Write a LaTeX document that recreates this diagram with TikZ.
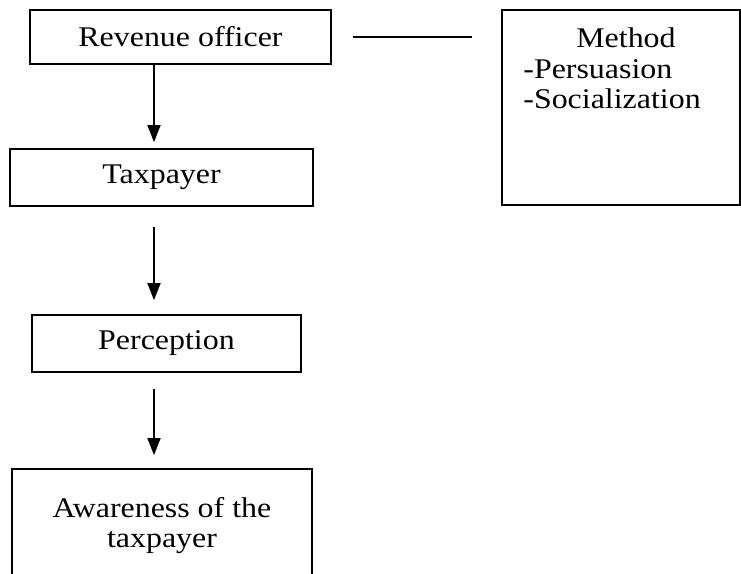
\documentclass[tikz,border=0pt]{standalone}
\usepackage{fontspec}
\setmainfont{Liberation Serif}[FakeStretch=1.12]
\usetikzlibrary{arrows.meta,positioning,calc}
\tikzset{
  box/.style  = {draw, line width=0.9pt, inner sep=0pt, align=center},
  item/.style = {inner sep=0pt},
  sig/.style  = {-{Triangle[length=8.5pt,width=6.5pt]}, line width=0.9pt},
  link/.style = {line width=0.9pt},
}

\begin{document}
\begin{tikzpicture}[x=0.5pt,y=-0.5pt,font=\fontsize{14.25}{15}\selectfont]
\useasboundingbox (0,0) rectangle (741,574);
% ---- left: chain of boxes ----
\node[box, minimum width=150.5pt, minimum height=27pt] (rev) at (180.5,37) {Revenue officer};
\node[box, minimum width=151.5pt, minimum height=28.5pt] (tax) at (161.5,177.5) {Taxpayer};
\node[box, minimum width=134.5pt, minimum height=28.5pt] (perc) at (166.5,343.5) {Perception};
\node[box, minimum width=150pt, minimum height=56.5pt] (aware) at (162,525.5) {Awareness of the\\taxpayer};
\coordinate (col) at (154,0);
\draw[sig, shorten >=3pt] (rev.south -| col) -- (tax.north -| col);
\draw[sig, shorten <=10pt, shorten >=7pt] (tax.south -| col) -- (perc.north -| col);
\draw[sig, shorten <=8pt, shorten >=6.5pt] (perc.south -| col) -- (aware.north -| col);
% ---- right: method box ----
\node[box, minimum width=119pt, minimum height=97.5pt] (meth) at (621,107.5) {};
\node[item, anchor=base] (methhead) at (626,47) {Method};
\node[item, anchor=base west] (pers) at (523,78) {-Persuasion};
\node[item, anchor=base west] (soc) at (523,108) {-Socialization};
\draw[link, shorten <=10.5pt, shorten >=14.5pt] (rev.east) -- (rev.east -| meth.west);
\end{tikzpicture}
\end{document}
